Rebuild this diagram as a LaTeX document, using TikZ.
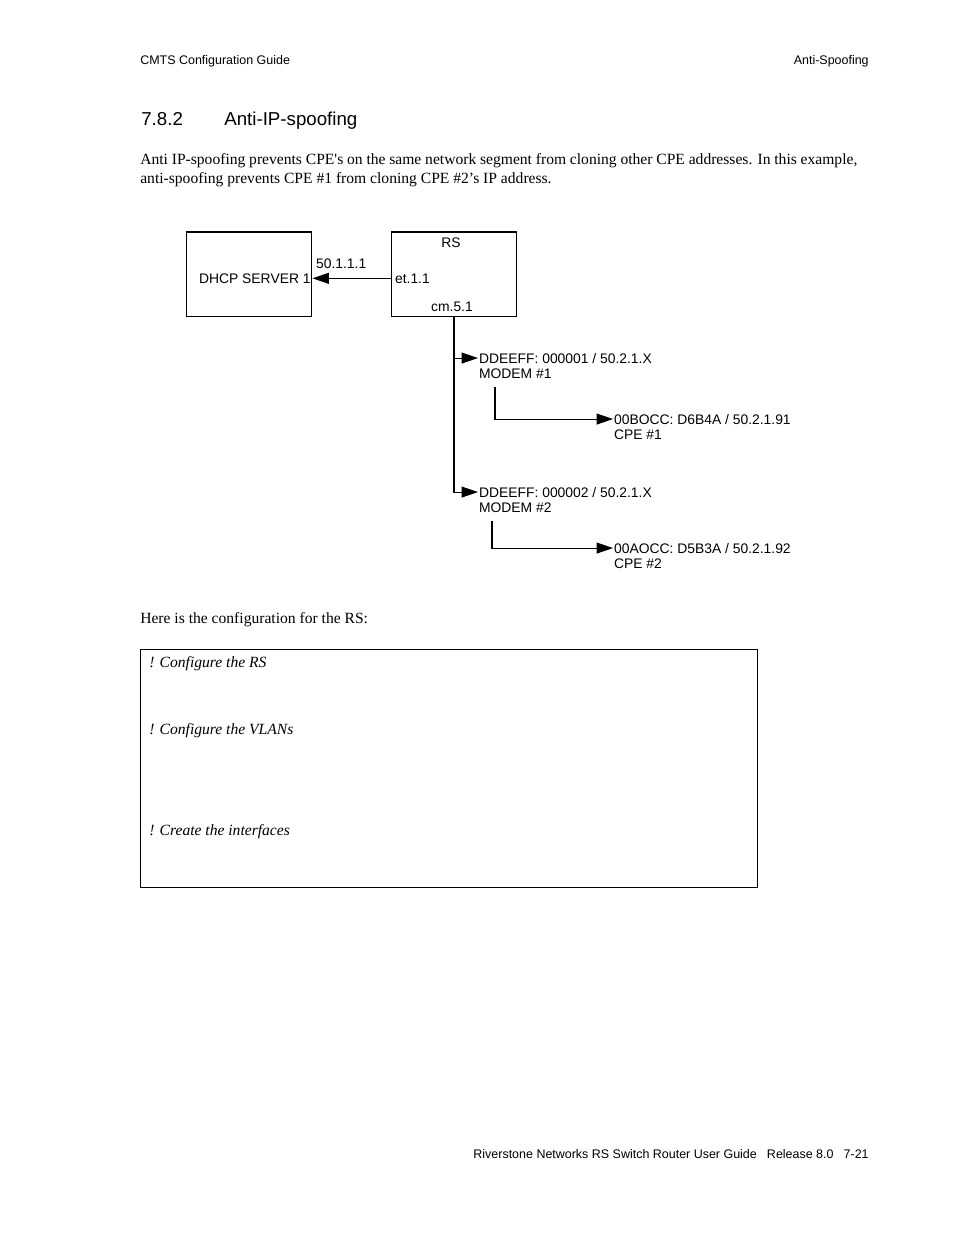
\documentclass[tikz,border=0pt]{standalone}
\usepackage{fontspec}
\setmainfont{Liberation Serif}
\setsansfont{Liberation Sans}
\usepackage{tikz}
\usetikzlibrary{arrows.meta,positioning}

\begin{document}
\begin{tikzpicture}[x=0.6415pt,y=-0.6415pt,
  lbl/.style={font=\sffamily\fontsize{8.9}{10}\selectfont,inner sep=0.5pt,anchor=base west},
  page/.style={font=\sffamily\fontsize{8}{10}\selectfont,inner sep=0pt},
  body/.style={font=\fontsize{10}{12}\selectfont,inner sep=0pt,anchor=base west},
  note/.style={font=\itshape\fontsize{10}{12}\selectfont,inner sep=0pt,anchor=base west},
  box/.style={draw,line width=0.65pt,minimum width=80.8pt,minimum height=53.9pt,inner sep=0pt},
  arr/.style={line width=0.65pt,-{Triangle[length=10.5pt,width=7pt]}}]
  \fill[white] (0,0) rectangle (954,1235);
  \useasboundingbox (0,0) rectangle (954,1235);
  % running head and foot
  \node[page,anchor=base west] (headleft) at (140,64) {CMTS Configuration Guide};
  \node[page,anchor=base east] (headright) at (869,64) {Anti-Spoofing};
  \node[page,anchor=base east] (foot) at (869,1158) {Riverstone Networks RS Switch Router User Guide\hspace{6.5pt}Release 8.0\hspace{6.5pt}7-21};
  % section
  \node[font=\sffamily\fontsize{12}{14}\selectfont,inner sep=0pt,anchor=base west] (secno) at (141,125) {7.8.2};
  \node[font=\sffamily\fontsize{12}{14}\selectfont,inner sep=0pt,anchor=base west] (sectitle) at (224,125) {Anti-IP-spoofing};
  \node[body] (parafirst) at (140,164) {\makebox[460pt][s]{Anti IP-spoofing prevents CPE\textquotesingle s on the same network segment from cloning other CPE addresses. In this example,}};
  \node[body] (parasecond) at (140,183) {anti-spoofing prevents CPE \#1 from cloning CPE \#2’s IP address.};

  % servers
  \node[box] (dhcp) at (249,274) {};
  \node[box] (rs) at (454,274) {};
  \node[lbl] (dhcpname) at (198,283) {DHCP SERVER 1};
  \node[lbl,anchor=base] (rsname) at (451,247) {RS};
  \node[lbl] (dhcpip) at (315,268) {50.1.1.1};
  \node[lbl] (eth) at (394,283) {et.1.1};
  \node[lbl,anchor=base] (cm) at (452,311) {cm.5.1};
  \draw[arr] (rs.west |- eth.west) -- (dhcp.east |- eth.west);

  % modems and CPEs
  \foreach \n/\ym/\dx/\yc/\mac/\cpe in {1/363/495/424/000001/{00BOCC: D6B4A / 50.2.1.91},
                                        2/497/492/553/000002/{00AOCC: D5B3A / 50.2.1.92}}{
    \node[lbl] (modem\n) at (478,\ym) {DDEEFF: \mac\ / 50.2.1.X};
    \node[lbl] (modemname\n) at (478,\ym+15) {MODEM \#\n};
    \node[lbl] (cpe\n) at (613,\yc) {\cpe};
    \node[lbl] (cpename\n) at (613,\yc+15) {CPE \#\n};
    \coordinate (drop\n) at (\dx,\ym+24);
    \draw[arr] (drop\n) |- (cpe\n.west);
  }
  \draw[arr] (rs.south) |- (modem2.west);
  \draw[arr] (rs.south |- modem1.west) -- (modem1.west);

  % configuration
  \node[body] (cfgintro) at (140,623) {Here is the configuration for the RS:};
  \node[draw,line width=0.65pt,minimum width=395.8pt,minimum height=152.7pt,inner sep=0pt,anchor=north west] (cfgbox) at (140,649) {};
  \node[note] (cfgrs) at (149,667) {! Configure the RS};
  \node[note] (cfgvlan) at (149,734) {! Configure the VLANs};
  \node[note] (cfgif) at (149,835) {! Create the interfaces};
\end{tikzpicture}
\end{document}
